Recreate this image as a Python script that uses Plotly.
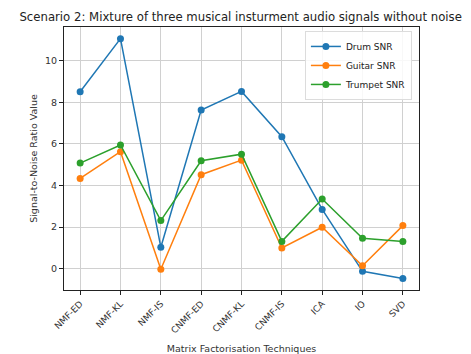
import plotly.graph_objects as go

techniques = ["NMF-ED", "NMF-KL", "NMF-IS", "CNMF-ED", "CNMF-KL", "CNMF-IS", "ICA", "IO", "SVD"]
drum_snr = [8.51, 11.07, 1.03, 7.63, 8.53, 6.35, 2.85, -0.13, -0.48]
guitar_snr = [4.34, 5.63, -0.03, 4.52, 5.22, 0.99, 1.99, 0.14, 2.07]
trumpet_snr = [5.08, 5.95, 2.31, 5.19, 5.51, 1.31, 3.35, 1.46, 1.31]

series = [
    ("Drum SNR", drum_snr, "#1f77b4"),
    ("Guitar SNR", guitar_snr, "#ff7f0e"),
    ("Trumpet SNR", trumpet_snr, "#2ca02c"),
]

fig = go.Figure()
for name, vals, color in series:
    fig.add_trace(go.Scatter(
        x=techniques, y=vals, name=name, mode="lines+markers",
        line=dict(color=color, width=1.5),
        marker=dict(color=color, size=7, symbol="circle"),
    ))

font = "DejaVu Sans, sans-serif"
fig.update_layout(
    width=471, height=354,
    margin=dict(l=64, r=52, t=27, b=64),
    paper_bgcolor="white", plot_bgcolor="white",
    font=dict(family=font, size=10, color="#333333"),
    title=dict(
        text="Scenario 2: Mixture of three musical insturment audio signals without noise",
        x=0.511, xanchor="center", y=0.953, yanchor="middle",
        font=dict(family=font, size=11.7, color="#222222"),
    ),
    legend=dict(
        x=0.98, xanchor="right", y=0.985, yanchor="top",
        bgcolor="rgba(255,255,255,0.85)", bordercolor="#dcdcdc", borderwidth=1,
        font=dict(size=9, color="#222222"),
        itemwidth=30, tracegroupgap=0,
    ),
    showlegend=True,
)
fig.update_xaxes(
    type="category", range=[-0.4, 8.4], automargin=False,
    showgrid=True, gridcolor="#d0d0d0", gridwidth=0.8,
    showline=True, linecolor="#222222", linewidth=1, mirror=True,
    ticks="outside", ticklen=4, tickcolor="#222222",
    tickangle=-45, tickfont=dict(size=9),
    title=dict(text="Matrix Factorisation Techniques", font=dict(size=9.5), standoff=12),
)
fig.update_yaxes(
    range=[-1.03, 11.63], tickvals=[0, 2, 4, 6, 8, 10], automargin=False,
    showgrid=True, gridcolor="#d0d0d0", gridwidth=0.8, zeroline=False,
    showline=True, linecolor="#222222", linewidth=1, mirror=True,
    ticks="outside", ticklen=4, tickcolor="#222222",
    tickfont=dict(size=9.5),
    title=dict(text="Signal-to-Noise Ratio Value", font=dict(size=9.5), standoff=5),
)

fig.write_html("out.html")
